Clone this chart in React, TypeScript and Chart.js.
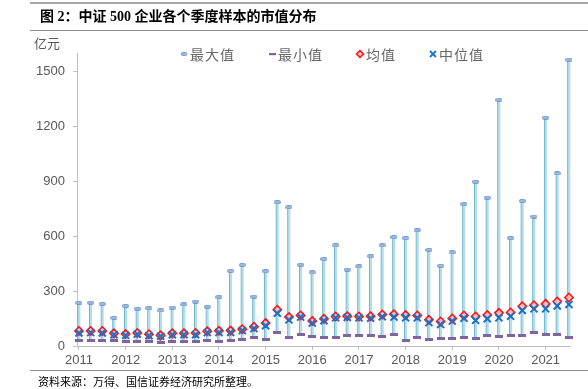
import React, { useEffect, useRef } from 'react';
import { Chart, registerables } from 'chart.js';

Chart.register(...registerables);

// ---- data ----
const yearLabels = ['2011', '2012', '2013', '2014', '2015', '2016', '2017', '2018', '2019', '2020', '2021'];
const quarterLabels = [
  '2011Q1', '2011Q2', '2011Q3', '2011Q4', '2012Q1', '2012Q2', '2012Q3', '2012Q4',
  '2013Q1', '2013Q2', '2013Q3', '2013Q4', '2014Q1', '2014Q2', '2014Q3', '2014Q4',
  '2015Q1', '2015Q2', '2015Q3', '2015Q4', '2016Q1', '2016Q2', '2016Q3', '2016Q4',
  '2017Q1', '2017Q2', '2017Q3', '2017Q4', '2018Q1', '2018Q2', '2018Q3', '2018Q4',
  '2019Q1', '2019Q2', '2019Q3', '2019Q4', '2020Q1', '2020Q2', '2020Q3', '2020Q4',
  '2021Q1', '2021Q2', '2021Q3',
];
const maxValues = [
  236, 237, 230, 154, 219, 203, 206, 194, 209, 227, 243, 214, 266, 410, 442, 270,
  408, 785, 757, 444, 402, 475, 549, 417, 435, 491, 549, 594, 589, 632, 525, 438,
  511, 774, 897, 810, 1345, 589, 792, 707, 1247, 942, 1563,
];
const minValues = [
  29, 29, 31, 29, 25, 27, 22, 20, 24, 24, 24, 29, 25, 31, 36, 44,
  36, 73, 47, 63, 53, 49, 49, 56, 56, 56, 53, 63, 31, 49, 35, 42,
  42, 49, 40, 56, 54, 58, 58, 74, 63, 62, 44,
];
const meanValues = [
  82, 82, 82, 69, 65, 71, 64, 58, 69, 69, 71, 80, 83, 84, 92, 105,
  125, 198, 158, 167, 136, 149, 161, 163, 161, 163, 172, 174, 169, 167, 143, 134,
  150, 167, 161, 169, 181, 183, 217, 223, 230, 243, 265,
];
const medianValues = [
  71, 73, 71, 62, 58, 64, 56, 53, 62, 62, 62, 73, 74, 74, 84, 95,
  111, 179, 143, 158, 125, 138, 154, 156, 154, 152, 160, 158, 154, 154, 128, 118,
  136, 152, 140, 149, 154, 163, 194, 203, 203, 219, 227,
];
const yTickValues = [0, 300, 600, 900, 1200, 1500];
const legendLabels = ['最大值', '最小值', '均值', '中位值'];

// ---- styles ----
const COLOR_MAX_FILL = '#9DB9E0';
const COLOR_MAX_EDGE = '#6690C8';
const COLOR_MIN = '#8064A2';
const COLOR_MEAN_EDGE = '#FF1010';
const COLOR_MEAN_FILL = '#F5BCBC';
const COLOR_MEDIAN = '#1A72C8';
const COLOR_BAR_FILL = '#B6DEEA';
const COLOR_BAR_EDGE = '#5FB0C9';
const AXIS_COLOR = '#BFBFBF';
const TEXT_GRAY = '#595959';

function makeMarker(w: number, h: number, draw: (ctx: CanvasRenderingContext2D) => void) {
  const c = document.createElement('canvas');
  c.width = w;
  c.height = h;
  const ctx = c.getContext('2d');
  if (ctx) draw(ctx);
  return c;
}

function roundRectPath(ctx: CanvasRenderingContext2D, x: number, y: number, w: number, h: number, r: number) {
  ctx.beginPath();
  ctx.moveTo(x + r, y);
  ctx.lineTo(x + w - r, y);
  ctx.quadraticCurveTo(x + w, y, x + w, y + r);
  ctx.lineTo(x + w, y + h - r);
  ctx.quadraticCurveTo(x + w, y + h, x + w - r, y + h);
  ctx.lineTo(x + r, y + h);
  ctx.quadraticCurveTo(x, y + h, x, y + h - r);
  ctx.lineTo(x, y + r);
  ctx.quadraticCurveTo(x, y, x + r, y);
  ctx.closePath();
}

const legendPlugin = {
  id: 'customLegend',
  afterDraw(chart: any) {
    const ctx: CanvasRenderingContext2D = chart.ctx;
    ctx.save();
    ctx.font = '14px "Noto Sans CJK SC", sans-serif';
    try { (ctx as any).letterSpacing = '1px'; } catch (e) { /* ignore */ }
    ctx.textBaseline = 'middle';
    ctx.textAlign = 'left';
    const cy = 54;
    let cursor = 181;
    legendLabels.forEach((label, i) => {
      const mx = cursor + 3;
      if (i === 0) {
        ctx.fillStyle = COLOR_MAX_FILL;
        ctx.strokeStyle = COLOR_MAX_EDGE;
        ctx.lineWidth = 0.8;
        roundRectPath(ctx, mx - 2.5, cy - 1.5, 5, 3, 1);
        ctx.fill();
        ctx.stroke();
      } else if (i === 1) {
        ctx.fillStyle = COLOR_MIN;
        ctx.fillRect(mx - 3, cy - 1, 7, 2.2);
      } else if (i === 2) {
        ctx.beginPath();
        ctx.moveTo(mx, cy - 3.5);
        ctx.lineTo(mx + 3.5, cy);
        ctx.lineTo(mx, cy + 3.5);
        ctx.lineTo(mx - 3.5, cy);
        ctx.closePath();
        ctx.fillStyle = COLOR_MEAN_FILL;
        ctx.fill();
        ctx.strokeStyle = COLOR_MEAN_EDGE;
        ctx.lineWidth = 1.5;
        ctx.stroke();
      } else {
        ctx.beginPath();
        ctx.moveTo(mx - 3, cy - 3);
        ctx.lineTo(mx + 3, cy + 3);
        ctx.moveTo(mx + 3, cy - 3);
        ctx.lineTo(mx - 3, cy + 3);
        ctx.strokeStyle = COLOR_MEDIAN;
        ctx.lineWidth = 1.8;
        ctx.stroke();
      }
      const tx = cursor + 9;
      ctx.fillStyle = '#666666';
      ctx.fillText(label, tx, cy + 0.5);
      const tw = ctx.measureText(label).width;
      cursor = tx + tw + 34;
    });
    ctx.restore();
  },
};

export default function App() {
  const canvasRef = useRef<HTMLCanvasElement | null>(null);

  useEffect(() => {
    const canvas = canvasRef.current;
    if (!canvas) return;

    const maxMarker = makeMarker(7, 4, (ctx) => {
      roundRectPath(ctx, 0.5, 0.5, 6, 3, 1.2);
      ctx.fillStyle = COLOR_MAX_FILL;
      ctx.fill();
      ctx.strokeStyle = COLOR_MAX_EDGE;
      ctx.lineWidth = 0.8;
      ctx.stroke();
    });
    const minMarker = makeMarker(8, 3, (ctx) => {
      ctx.fillStyle = COLOR_MIN;
      ctx.fillRect(0, 0, 8, 3);
    });

    const idx = quarterLabels.map((_, i) => i);

    const chart = new Chart(canvas, {
      type: 'bar',
      data: {
        datasets: [
          {
            type: 'line',
            label: legendLabels[3],
            data: idx.map((i) => ({ x: i, y: medianValues[i] })),
            showLine: false,
            clip: false,
            pointStyle: 'crossRot',
            pointRadius: 5,
            pointBorderWidth: 2,
            pointBorderColor: COLOR_MEDIAN,
            pointBackgroundColor: COLOR_MEDIAN,
            order: 1,
          } as any,
          {
            type: 'line',
            label: legendLabels[2],
            data: idx.map((i) => ({ x: i, y: meanValues[i] })),
            showLine: false,
            clip: false,
            pointStyle: 'rectRot',
            pointRadius: 4.2,
            pointBorderWidth: 1.5,
            pointBorderColor: COLOR_MEAN_EDGE,
            pointBackgroundColor: COLOR_MEAN_FILL,
            order: 2,
          } as any,
          {
            type: 'line',
            label: legendLabels[0],
            data: idx.map((i) => ({ x: i, y: maxValues[i] })),
            showLine: false,
            clip: false,
            pointStyle: maxMarker,
            pointRadius: 4,
            order: 3,
          } as any,
          {
            type: 'line',
            label: legendLabels[1],
            data: idx.map((i) => ({ x: i, y: minValues[i] })),
            showLine: false,
            clip: false,
            pointStyle: minMarker,
            pointRadius: 4,
            order: 4,
          } as any,
          {
            type: 'bar',
            label: 'range',
            data: idx.map((i) => ({ x: i, y: [minValues[i], maxValues[i]] })),
            clip: false,
            barThickness: 3,
            backgroundColor: COLOR_BAR_FILL,
            borderColor: COLOR_BAR_EDGE,
            borderWidth: { left: 1, right: 0, top: 0, bottom: 0 },
            borderSkipped: false,
            order: 5,
          } as any,
        ],
      },
      options: {
        animation: false,
        responsive: false,
        maintainAspectRatio: false,
        layout: { padding: { top: 53, right: 18, left: 0, bottom: 0 } },
        plugins: {
          legend: { display: false },
          tooltip: { enabled: false },
        },
        scales: {
          x: {
            type: 'linear',
            offset: false,
            min: -0.17,
            max: 42.09,
            afterBuildTicks: (scale: any) => {
              scale.ticks = yearLabels.map((_, i) => ({ value: i * 4 }));
            },
            afterFit: (scale: any) => {
              scale.height = 43;
            },
            ticks: {
              autoSkip: false,
              maxRotation: 0,
              padding: 3,
              color: TEXT_GRAY,
              font: { family: '"Liberation Sans", Arial, sans-serif', size: 13 },
              callback: (_v: any, index: number) => yearLabels[index],
            },
            grid: { offset: false, drawOnChartArea: false, tickLength: 4, color: AXIS_COLOR },
            border: { color: AXIS_COLOR, width: 1 },
          },
          y: {
            type: 'linear',
            min: 0,
            max: 1600,
            afterBuildTicks: (scale: any) => {
              scale.ticks = yTickValues.map((v) => ({ value: v }));
            },
            afterFit: (scale: any) => {
              scale.width = 77;
            },
            ticks: {
              padding: 8,
              color: TEXT_GRAY,
              font: { family: '"Liberation Sans", Arial, sans-serif', size: 13 },
              callback: (v: any) => String(v),
            },
            grid: { drawOnChartArea: false, tickLength: 4, color: AXIS_COLOR },
            border: { color: AXIS_COLOR, width: 1 },
          },
        },
      } as any,
      plugins: [legendPlugin],
    });

    return () => {
      chart.destroy();
    };
  }, []);

  const cjk = '"Noto Sans CJK SC", sans-serif';

  return (
    <div style={{ position: 'absolute', left: 0, top: 0, width: 588, height: 389, background: '#fff', overflow: 'hidden' }}>
      <canvas ref={canvasRef} width={588} height={389} style={{ position: 'absolute', left: 0, top: 0, width: 588, height: 389 }} />
      <div style={{ position: 'absolute', left: 30, top: 2, width: 558, height: 2, background: '#A6A6A6' }} />
      <div
        style={{
          position: 'absolute', left: 40, top: 8, height: 18, lineHeight: '18px', fontSize: 14, fontWeight: 700,
          color: '#000', whiteSpace: 'nowrap', fontFamily: '"Liberation Serif", "Noto Sans CJK SC", serif',
        }}
      >
        图 2：中证 500 企业各个季度样本的市值分布
      </div>
      <div style={{ position: 'absolute', left: 30, top: 30, width: 558, height: 1, background: '#8C8C8C' }} />
      <div
        style={{
          position: 'absolute', left: 34, top: 35, height: 16, lineHeight: '16px', fontSize: 13,
          color: TEXT_GRAY, whiteSpace: 'nowrap', fontFamily: cjk,
        }}
      >
        亿元
      </div>
      <div style={{ position: 'absolute', left: 30, top: 370, width: 558, height: 1, background: '#8C8C8C' }} />
      <div
        style={{
          position: 'absolute', left: 38, top: 374, height: 14, lineHeight: '14px', fontSize: 11,
          color: '#000', whiteSpace: 'nowrap', fontFamily: cjk,
        }}
      >
        资料来源：万得、国信证券经济研究所整理。
      </div>
    </div>
  );
}
